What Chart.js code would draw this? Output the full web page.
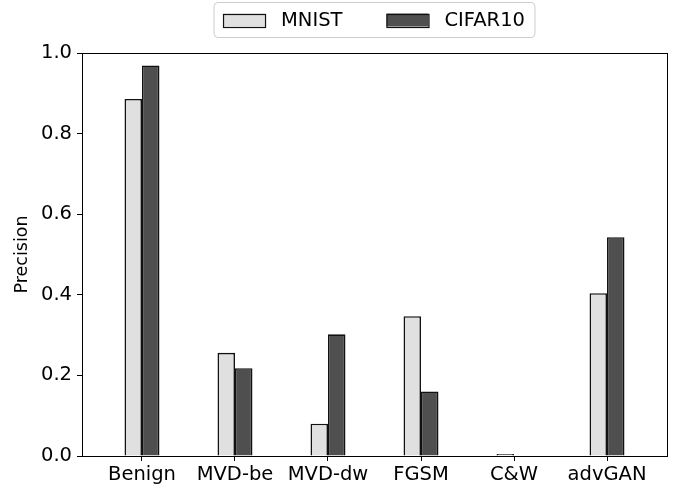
<!DOCTYPE html>
<html>
<head>
<meta charset="utf-8">
<script src="https://cdn.jsdelivr.net/npm/chart.js@4.4.1/dist/chart.umd.min.js"></script>
<style>
  html, body { margin: 0; padding: 0; background: #fff; }
  canvas { display: block; }
</style>
</head>
<body>
<canvas id="chart" width="676" height="488"></canvas>
<script>
// data
const categories = ["Benign", "MVD-be", "MVD-dw", "FGSM", "C&W", "advGAN"];
const mnist = [0.886, 0.256, 0.080, 0.347, 0.005, 0.404];
const cifar10 = [0.969, 0.218, 0.302, 0.160, 0.0, 0.543];
const yTicks = [0, 0.2, 0.4, 0.6, 0.8, 1.0];

const FONT = "'DejaVu Sans', sans-serif";

function toPoints(values) {
  return values.map((v, i) => ({ x: i, y: v }));
}

// frame round the plot + matplotlib style legend box
const framePlugin = {
  id: "frame",
  afterDraw(chart) {
    const ctx = chart.ctx;
    const a = chart.chartArea;
    ctx.save();
    ctx.strokeStyle = "#000";
    ctx.lineWidth = 1;
    ctx.strokeRect(Math.round(a.left) + 0.5, Math.round(a.top) + 0.5, Math.round(a.right - a.left), Math.round(a.bottom - a.top));

    // legend
    ctx.font = "19.5px " + FONT;
    const items = chart.data.datasets.map(ds => ({ text: ds.label, fill: ds.backgroundColor, w: ctx.measureText(ds.label).width }));
    const patchW = 42, patchH = 13, gap = 16, between = 44, padL = 9, padR = 10;
    let total = padL + padR;
    items.forEach((it, i) => { total += patchW + gap + it.w + (i > 0 ? between : 0); });
    const cx = (a.left + a.right) / 2;
    const boxL = cx - total / 2, boxT = 2.5, boxH = 35;
    ctx.beginPath();
    ctx.roundRect(boxL, boxT, total, boxH, 4);
    ctx.fillStyle = "rgba(255,255,255,0.8)";
    ctx.fill();
    ctx.strokeStyle = "#cccccc";
    ctx.stroke();
    const midY = boxT + boxH / 2;
    let x = boxL + padL;
    items.forEach((it, i) => {
      if (i > 0) x += between;
      ctx.fillStyle = it.fill;
      ctx.fillRect(x, midY - patchH / 2, patchW, patchH);
      ctx.strokeStyle = "#111";
      ctx.lineWidth = 1.2;
      ctx.strokeRect(x + 0.5, Math.round(midY - patchH / 2) + 0.5, patchW, patchH);
      x += patchW + gap;
      ctx.fillStyle = "#000";
      ctx.textBaseline = "middle";
      ctx.textAlign = "left";
      ctx.fillText(it.text, x, midY + 1);
      x += it.w;
    });
    ctx.restore();
  }
};

new Chart(document.getElementById("chart"), {
  type: "bar",
  data: {
    datasets: [
      {
        label: "MNIST",
        data: toPoints(mnist),
        backgroundColor: "#e0e0e0",
        borderColor: "#111",
        borderWidth: 1.6,
        categoryPercentage: 0.376,
        barPercentage: 1.0
      },
      {
        label: "CIFAR10",
        data: toPoints(cifar10),
        backgroundColor: "#4f4f4f",
        borderColor: "#111",
        borderWidth: 1.6,
        categoryPercentage: 0.376,
        barPercentage: 1.0
      }
    ]
  },
  options: {
    responsive: false,
    animation: false,
    devicePixelRatio: 1,
    layout: { padding: { top: 53, right: 9, bottom: 0, left: 0 } },
    plugins: {
      legend: { display: false },
      tooltip: { enabled: false }
    },
    scales: {
      x: {
        type: "linear",
        min: -0.645,
        max: 5.645,
        offset: false,
        afterBuildTicks: (scale) => { scale.ticks = categories.map((c, i) => ({ value: i })); },
        afterFit: (scale) => { scale.height = 32; },
        grid: { offset: false, drawOnChartArea: false, drawTicks: true, tickLength: 5, color: "#000", lineWidth: 1 },
        border: { color: "#000", width: 1 },
        ticks: {
          color: "#000",
          font: { family: FONT, size: 19.5 },
          padding: 2,
          maxRotation: 0,
          autoSkip: false,
          callback: (v) => categories[v]
        }
      },
      y: {
        min: 0,
        max: 1,
        afterBuildTicks: (scale) => { scale.ticks = yTicks.map(v => ({ value: v })); },
        afterFit: (scale) => { scale.width = 82; },
        grid: { drawOnChartArea: false, drawTicks: true, tickLength: 5, color: "#000", lineWidth: 1 },
        border: { color: "#000", width: 1 },
        ticks: {
          color: "#000",
          font: { family: FONT, size: 19.5 },
          padding: 5,
          callback: (v) => v.toFixed(1)
        },
        title: {
          display: true,
          text: "Precision",
          color: "#000",
          font: { family: FONT, size: 17.5 },
          padding: { top: 12, bottom: 0 }
        }
      }
    }
  },
  plugins: [framePlugin]
});
</script>
</body>
</html>
